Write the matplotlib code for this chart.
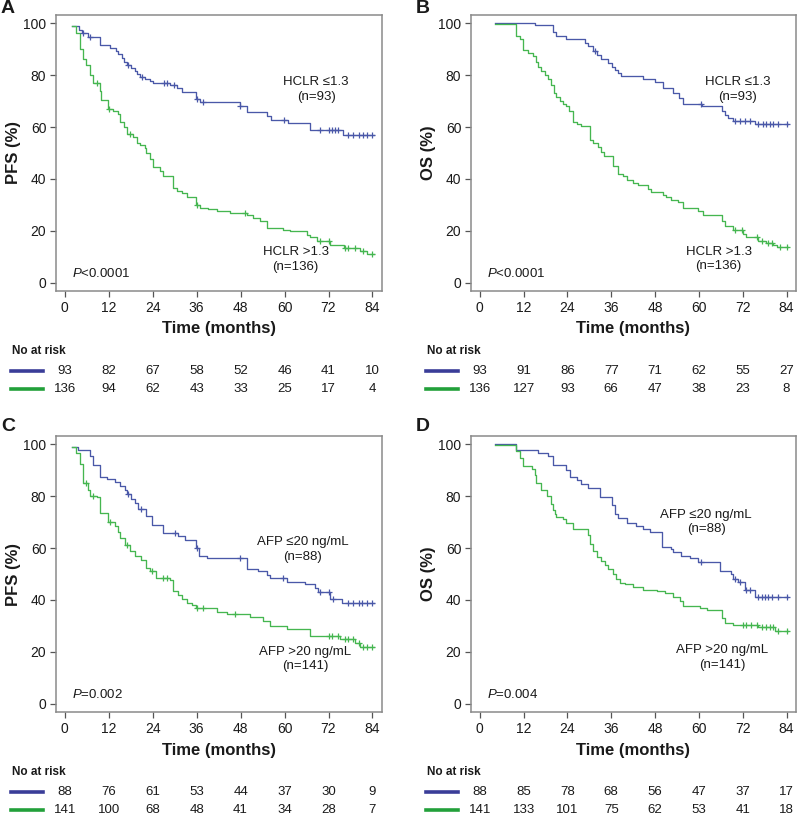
import numpy as np
import matplotlib
matplotlib.use("Agg")
import matplotlib.pyplot as plt
from matplotlib.transforms import blended_transform_factory

plt.rcParams["font.family"] = ["Liberation Sans", "DejaVu Sans"]
plt.rcParams["mathtext.fontset"] = "custom"
plt.rcParams["mathtext.it"] = "Liberation Sans:italic"
plt.rcParams["mathtext.rm"] = "Liberation Sans"

# ---------------------------------------------------------------------------
# Data: event times (months) and survival (%)
# first entry = start of curve; censor times listed separately
# ---------------------------------------------------------------------------
# A: PFS by HCLR
a_lo_t = [2.1, 3.8, 4.6, 6.4, 9.6, 12.3, 13.9, 14.6, 15.5, 16.1, 16.9, 18.2, 19.1, 19.6,
          20.5, 21.9, 23.2, 24.1, 28.7, 30.5, 31.9, 35.8, 36.9, 47.8, 49.7, 55.1, 56.2,
          61.0, 67.0, 75.9]
a_lo_s = [99, 97.5, 96.2, 94.8, 91.5, 90.3, 89.2, 88.0, 86.5, 85.2, 84.0, 82.6, 81.6, 80.5,
          79.3, 78.6, 77.6, 76.9, 76.1, 75.2, 73.5, 70.8, 69.5, 68.2, 65.6, 64.1, 62.8,
          61.5, 58.8, 57.1]
a_lo_c = [4.9, 7.0, 17.3, 21.0, 27.0, 27.9, 29.8, 36.2, 37.8, 47.9, 59.9, 69.7, 72.0, 72.9,
          73.8, 74.7, 77.4, 78.8, 80.2, 81.5, 82.5, 84.0]
a_lo_end = 84.3

a_hi_t = [2.1, 3.0, 4.1, 5.0, 5.9, 6.8, 7.7, 9.6, 10.0, 11.8, 13.2, 14.6, 15.2, 16.1, 17.0,
          18.7, 19.6, 20.5, 21.9, 22.3, 23.2, 24.1, 26.0, 26.9, 29.6, 30.5, 31.9, 33.3,
          35.8, 36.9, 39.2, 41.5, 45.1, 49.7, 51.5, 53.3, 55.1, 59.7, 61.5, 66.1, 67.0,
          68.8, 72.4, 76.1, 80.6, 82.5]
a_hi_s = [99, 96, 90, 86, 84, 80, 77, 74, 70.5, 67, 66, 65, 62, 60, 57.5,
          56, 54, 53, 52, 50, 47.5, 44.5, 43, 41, 36.5, 35.5, 34.5, 33,
          30, 29, 28.5, 27.5, 26.8, 26, 25, 24, 21, 20.5, 20, 18.5, 17.5,
          16.3, 14.5, 13.3, 12.3, 11]
a_hi_c = [8.7, 12.1, 17.8, 36.0, 49.2, 69.7, 72.0, 76.5, 77.4, 79.3, 81.5, 83.8]
a_hi_end = 84.3

# B: OS by HCLR
b_lo_t = [4.1, 15.1, 20.1, 21.0, 23.7, 28.8, 29.7, 30.9, 32.0, 33.3, 35.2, 36.1, 37.0,
          37.9, 38.8, 44.7, 47.9, 50.2, 53.0, 54.6, 55.7, 60.9, 66.2, 67.1, 68.0, 69.4, 75.3]
b_lo_s = [100, 99.2, 96.5, 95.0, 93.8, 92.5, 91, 89.2, 87.8, 86.2, 84.5, 83, 82,
          80.8, 79.7, 78.6, 77.5, 75, 73.2, 71, 69, 67.9, 66, 64.5, 63.5, 62.3, 61.2]
b_lo_c = [31.5, 60.7, 69.8, 71.2, 72.6, 74.0, 76.2, 77.6, 78.5, 79.4, 80.4, 81.7, 84.0]
b_lo_end = 84.5

b_hi_t = [4.1, 10.0, 11.0, 11.9, 13.2, 14.6, 15.5, 16.0, 16.9, 17.8, 18.7, 19.6, 20.3,
          21.0, 21.9, 22.8, 23.7, 24.5, 25.6, 26.5, 27.8, 30.1, 31.0, 32.4, 33.3, 34.0,
          36.5, 37.9, 39.3, 40.2, 42.0, 43.4, 46.1, 47.0, 50.2, 51.1, 52.5, 54.3, 55.7,
          59.8, 61.2, 66.2, 67.1, 69.4, 72.1, 73.0, 76.2, 78.5, 80.4, 81.3]
b_hi_s = [99.5, 95, 94, 89.5, 88.5, 87.5, 85, 83, 81.5, 80, 78.5, 76, 73,
          71.5, 70, 69, 68, 66, 62, 61, 60.3, 55, 54, 52.5, 50.5, 49,
          45, 42, 41, 39.5, 38.5, 37.5, 36, 35, 34, 33, 32, 31, 29,
          27.5, 26, 24, 22, 20.5, 19, 17.5, 16, 15.3, 14.5, 14]
b_hi_c = [69.8, 71.7, 75.8, 77.2, 79.0, 79.9, 82.2, 84.0]
b_hi_end = 84.5

# C: PFS by AFP
c_lo_t = [2.1, 3.6, 6.8, 7.7, 9.6, 11.4, 13.7, 15.0, 16.4, 17.1, 18.2, 19.1, 20.0, 22.3,
          23.9, 26.9, 31.0, 32.8, 35.8, 36.6, 38.8, 49.8, 52.8, 55.1, 56.0, 60.8, 65.6,
          68.3, 69.2, 72.4, 75.6]
c_lo_s = [99, 97.8, 95.5, 92, 87.5, 86.5, 85.5, 84, 82.5, 80.8, 79, 77.5, 75, 72.5,
          69, 65.8, 64.5, 63, 60, 57, 56, 52, 51, 49.5, 48.5, 47, 46,
          44.5, 43, 40.5, 39]
c_lo_c = [17.2, 20.9, 30.1, 36.0, 47.8, 59.7, 69.7, 72.0, 73.3, 77.4, 78.8, 80.2, 81.1,
          82.5, 83.8]
c_lo_end = 84.3

c_hi_t = [2.1, 3.0, 4.1, 5.0, 6.4, 6.8, 8.7, 9.6, 11.8, 13.7, 14.6, 15.0, 16.4, 17.8,
          19.1, 20.9, 22.3, 23.2, 24.8, 28.7, 29.6, 31.0, 31.9, 33.3, 34.6, 35.8, 41.5,
          44.2, 50.6, 54.2, 56.0, 60.6, 67.0, 75.2, 79.3, 80.6]
c_hi_s = [99, 96.5, 92.5, 85, 82.5, 80, 79.5, 73.5, 70, 68.5, 66, 64, 61, 59,
          57, 55.5, 52.5, 51, 48.5, 47.5, 43.5, 42, 40.5, 39, 38, 37, 35.5,
          34.5, 33.5, 32, 30, 29, 26, 25, 23.5, 22]
c_hi_c = [5.7, 7.7, 12.3, 16.9, 23.9, 26.9, 27.8, 36.0, 37.8, 46.5, 72.0, 72.9, 74.7,
          76.5, 77.4, 78.8, 80.2, 81.5, 82.5, 83.8]
c_hi_end = 84.3

# D: OS by AFP
d_lo_t = [4.1, 10.0, 16.0, 18.7, 20.1, 23.7, 24.7, 26.5, 27.8, 29.7, 32.9, 36.1, 37.0,
          37.9, 40.2, 42.9, 44.7, 46.6, 49.8, 52.5, 53.0, 55.2, 57.5, 59.8, 65.7, 68.9,
          69.4, 70.8, 72.6, 75.3]
d_lo_s = [100, 97.8, 96.5, 95.5, 92, 90, 87.5, 86, 84.5, 83, 79.5, 76.5, 73,
          71.5, 69.5, 68.5, 67.5, 66, 60.5, 59.5, 58.5, 57, 56, 54.5, 51, 50,
          48, 46.8, 44, 41.2]
d_lo_c = [60.7, 69.8, 71.2, 73.0, 73.9, 76.2, 77.2, 78.1, 79.0, 79.9, 81.7, 84.0]
d_lo_end = 84.5

d_hi_t = [4.1, 10.0, 11.0, 11.9, 14.2, 15.1, 15.5, 16.9, 18.3, 19.6, 20.1, 20.5, 21.0,
          22.8, 23.7, 25.6, 29.7, 30.1, 31.0, 32.0, 33.3, 34.2, 35.2, 36.5, 37.4, 38.3,
          39.7, 42.0, 44.7, 48.4, 50.7, 53.0, 54.8, 55.7, 60.3, 62.1, 66.2, 67.1, 69.4,
          76.2, 80.8]
d_hi_s = [99.5, 97.5, 94.5, 91.5, 90.5, 88, 85, 82.5, 80, 77, 74.5, 73, 72,
          71, 69.5, 67.5, 65, 61.5, 59, 56.5, 55, 53.5, 52, 50, 48, 46.5,
          46, 45, 44, 43.5, 42.5, 41, 39.5, 37.5, 37, 36, 33, 31, 30.5,
          29.5, 28]
d_hi_c = [72.1, 73.0, 74.4, 75.8, 77.2, 78.5, 79.4, 80.4, 81.7, 84.0]
d_hi_end = 84.5

# Number at risk
risk_times = [0, 12, 24, 36, 48, 60, 72, 84]
a_risk_lo = [93, 82, 67, 58, 52, 46, 41, 10]
a_risk_hi = [136, 94, 62, 43, 33, 25, 17, 4]
b_risk_lo = [93, 91, 86, 77, 71, 62, 55, 27]
b_risk_hi = [136, 127, 93, 66, 47, 38, 23, 8]
c_risk_lo = [88, 76, 61, 53, 44, 37, 30, 9]
c_risk_hi = [141, 100, 68, 48, 41, 34, 28, 7]
d_risk_lo = [88, 85, 78, 68, 56, 47, 37, 17]
d_risk_hi = [141, 133, 101, 75, 62, 53, 41, 18]

# ---------------------------------------------------------------------------
# Style
# ---------------------------------------------------------------------------
W, H = 797, 816
BLUE = "#4a58a8"
GREEN = "#45b650"
BLUE_TAB = "#3a3d98"
GREEN_TAB = "#22a03a"
FRAME = "#8a8a8a"
TXT = "#1a1a1a"

fig = plt.figure(figsize=(W / 100, H / 100), dpi=100)


def px_axes(l, t, r, b):
    return fig.add_axes([l / W, 1 - b / H, (r - l) / W, (b - t) / H])


def km(ax, t, s, cens, end, color):
    tt = list(t) + [end]
    ss = list(s) + [s[-1]]
    ax.step(tt, ss, where="post", color=color, lw=0.95, zorder=3)
    idx = np.searchsorted(t, cens, side="right") - 1
    ax.plot(cens, np.array(s)[idx], "+", color=color, ms=5, mew=0.9, zorder=4)


def panel(box, letter, ylabel, lo, hi, lo_lab, hi_lab, lo_pos, hi_pos, ptxt,
          risk_lo, risk_hi):
    l, t, r, b = box
    ax = px_axes(l, t, r, b)
    km(ax, *lo, color=BLUE)
    km(ax, *hi, color=GREEN)
    ax.set_xlim(-2.4, 86.6)
    ax.set_ylim(-3.1, 103.1)
    ax.set_xticks(risk_times)
    ax.set_yticks([0, 20, 40, 60, 80, 100])
    ax.tick_params(direction="out", length=4.5, width=0.9, color="#555555",
                   labelsize=10, labelcolor=TXT, pad=2.5)
    for sp in ax.spines.values():
        sp.set_color(FRAME)
        sp.set_linewidth(1.1)

    ax.text(0.5, -38 / (b - t), "Time (months)", transform=ax.transAxes,
            ha="center", va="center", fontsize=12, fontweight="bold", color=TXT)
    ax.text(-43 / (r - l), 0.5, ylabel, transform=ax.transAxes, rotation=90,
            ha="center", va="center", fontsize=12, fontweight="bold", color=TXT)

    ax.text(lo_pos[0], lo_pos[1], lo_lab, ha="center", va="center",
            fontsize=9.5, color=TXT, linespacing=1.3)
    ax.text(hi_pos[0], hi_pos[1], hi_lab, ha="center", va="center",
            fontsize=9.5, color=TXT, linespacing=1.3)
    ax.text(2.0, 3.5, ptxt, ha="left", va="center", fontsize=9.5, color=TXT)

    # panel letter
    fig.text((l - 55) / W, 1 - max(0, t - 18) / H, letter, ha="left", va="top",
             fontsize=14, fontweight="bold", color=TXT)

    # number at risk table
    tr = blended_transform_factory(ax.transData, fig.transFigure)
    fig.text((l - 44) / W, 1 - (b + 60) / H, "No at risk", ha="left", va="center",
             fontsize=8.5, fontweight="bold", color=TXT)
    for vals, y, col in ((risk_lo, b + 80, BLUE_TAB), (risk_hi, b + 98, GREEN_TAB)):
        fig.add_artist(plt.Line2D([(l - 45) / W, (l - 13) / W],
                                  [1 - y / H, 1 - y / H], color=col, lw=2.6))
        for xt, v in zip(risk_times, vals):
            ax.text(xt, 1 - y / H, str(v), transform=tr, ha="center", va="center",
                    fontsize=9.5, color=TXT)
    return ax


panel((56, 15, 382, 291), "A", "PFS (%)",
      (a_lo_t, a_lo_s, a_lo_c, a_lo_end), (a_hi_t, a_hi_s, a_hi_c, a_hi_end),
      "HCLR \u22641.3\n(n=93)", "HCLR >1.3\n(n=136)", (68.6, 74.3), (63.0, 9.1),
      "$\\mathit{P}$<0.0001", a_risk_lo, a_risk_hi)
panel((471, 15, 796, 291), "B", "OS (%)",
      (b_lo_t, b_lo_s, b_lo_c, b_lo_end), (b_hi_t, b_hi_s, b_hi_c, b_hi_end),
      "HCLR \u22641.3\n(n=93)", "HCLR >1.3\n(n=136)", (70.6, 74.5), (65.4, 9.2),
      "$\\mathit{P}$<0.0001", b_risk_lo, b_risk_hi)
panel((56, 436, 382, 712), "C", "PFS (%)",
      (c_lo_t, c_lo_s, c_lo_c, c_lo_end), (c_hi_t, c_hi_s, c_hi_c, c_hi_end),
      "AFP \u226420 ng/mL\n(n=88)", "AFP >20 ng/mL\n(n=141)", (65.0, 59.4), (65.7, 17.3),
      "$\\mathit{P}$=0.002", c_risk_lo, c_risk_hi)
panel((471, 436, 796, 712), "D", "OS (%)",
      (d_lo_t, d_lo_s, d_lo_c, d_lo_end), (d_hi_t, d_hi_s, d_hi_c, d_hi_end),
      "AFP \u226420 ng/mL\n(n=88)", "AFP >20 ng/mL\n(n=141)", (62.0, 70.0), (66.4, 17.9),
      "$\\mathit{P}$=0.004", d_risk_lo, d_risk_hi)

fig.savefig("out.png", dpi=100)
